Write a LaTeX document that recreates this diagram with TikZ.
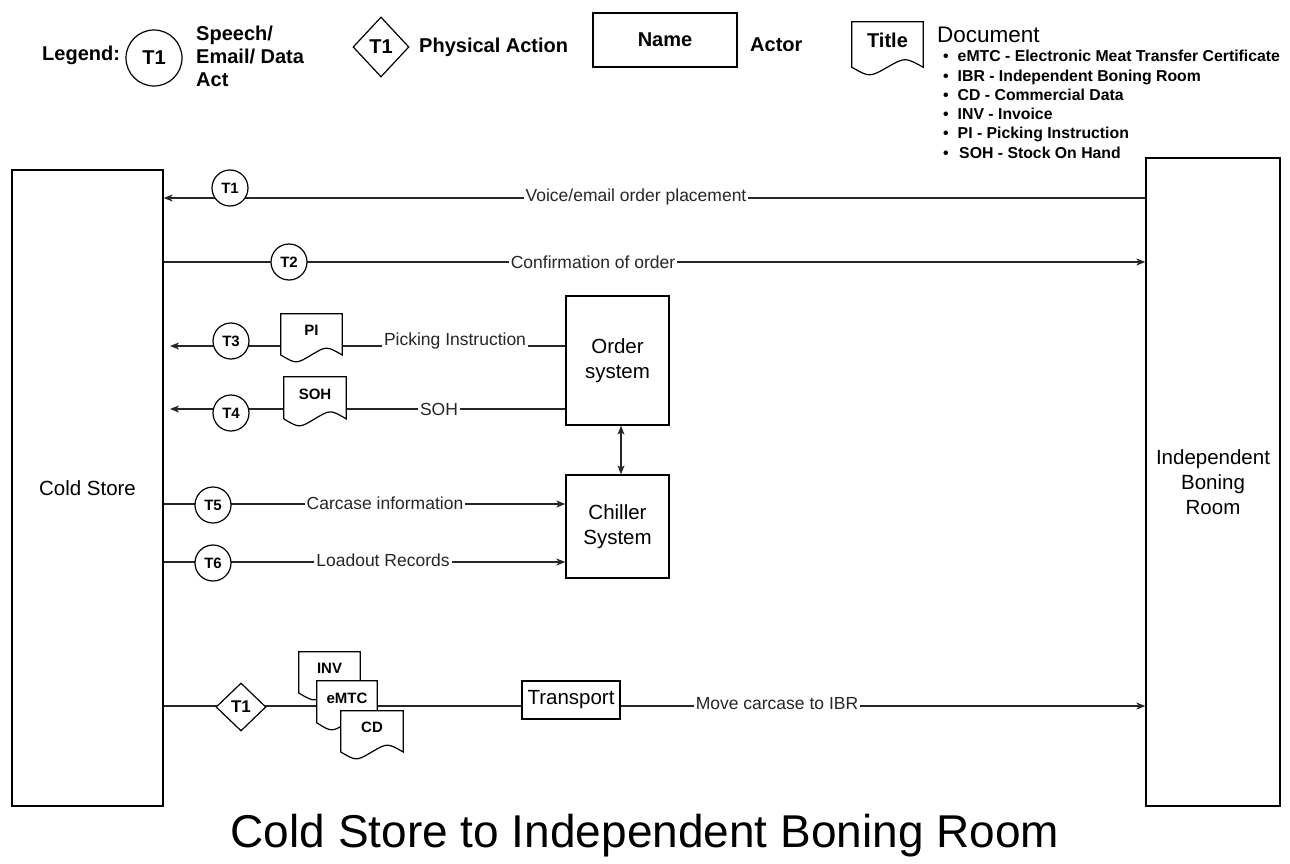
\documentclass[tikz,border=0pt]{standalone}
\usepackage{fontspec}
\setmainfont{Liberation Sans}
\usetikzlibrary{shapes.geometric,calc,arrows.meta}

\tikzset{
  box/.style={draw=black, line width=1.3pt, fill=white, inner sep=0pt, align=center,
    font=\fontsize{20.5}{25}\selectfont},
  tcirc/.style={circle, draw=black, line width=1.2pt, fill=white, minimum size=36pt, inner sep=0pt,
    font=\bfseries\fontsize{15}{18}\selectfont},
  conn/.style={line width=1.1pt, draw=black!85},
  arr/.style={-{Stealth[length=9pt,width=7pt,inset=2.5pt]}},
  dblarr/.style={{Stealth[length=9pt,width=7pt,inset=2.5pt]}-{Stealth[length=9pt,width=7pt,inset=2.5pt]}},
  lbl/.style={fill=white, inner sep=2pt, text=black!85, font=\fontsize{17.5}{21}\selectfont},
  docbox/.style={draw=none, inner sep=0pt},
  docline/.style={draw=black, line width=1.2pt, fill=white},
  doctext/.style={inner sep=0pt, font=\bfseries\fontsize{15}{18}\selectfont},
  legtext/.style={inner sep=0pt, font=\bfseries\fontsize{20}{23}\selectfont},
  itemtext/.style={inner sep=0pt, anchor=base west, font=\bfseries\fontsize{15.8}{19}\selectfont},
  tdiam/.style={diamond, draw=black, line width=1.2pt, fill=white, inner sep=0pt, aspect=1},
}

% name, cx, cy, w, h, text
\newcommand{\docshape}[6]{%
  \node[docbox, minimum width=#4pt, minimum height=#5pt] (#1) at (#2,#3) {};
  \draw[docline] (#1.north west) -- (#1.north east)
    -- ($(#1.south east)+(0,-0.15*#5)$)
    .. controls ($(#1.south west)+(0.75*#4,-0.34*#5)$) .. ($(#1.south west)+(0.5*#4,-0.15*#5)$)
    .. controls ($(#1.south west)+(0.25*#4,0.04*#5)$) .. ($(#1.south west)+(0,-0.15*#5)$)
    -- cycle;
  \node[doctext] (#1-t) at ($(#1.north)+(0,0.35*#5)$) {#6};
}

\begin{document}
\begin{tikzpicture}[x=1pt,y=-1pt]
\useasboundingbox (0,0) rectangle (1290,864);

% ---------- Legend ----------
\node[legtext, anchor=west] (leg) at (42,55) {Legend:};
\node[circle, draw=black, line width=1.2pt, minimum size=56pt, inner sep=0pt,
  font=\bfseries\fontsize{20}{23}\selectfont] (lc) at (154,58) {T1};
\node[legtext, anchor=west, align=left] (lct) at (196,56) {Speech/\\Email/ Data\\Act};
\node[tdiam, minimum width=56pt, minimum height=60pt,
  font=\bfseries\fontsize{20}{23}\selectfont] (ld) at (381,47) {T1};
\node[legtext, anchor=west] (lda) at (419,47) {Physical Action};
\node[draw=black, line width=1.3pt, minimum width=144pt, minimum height=54pt, inner sep=0pt,
  font=\bfseries\fontsize{20}{23}\selectfont] (lname) at (665,40) {Name};
\node[legtext, anchor=west] (lact) at (750,45) {Actor};
\docshape{ltitle}{887.5}{48.5}{71}{53}{\fontsize{20}{23}\selectfont Title}
\node[inner sep=0pt, anchor=base west, font=\fontsize{22.5}{26}\selectfont] (ldoc) at (937,43) {Document};
\node[itemtext] (i1) at (943,62) {\textbullet\hspace{9pt}eMTC - Electronic Meat Transfer Certificate};
\node[itemtext] (i2) at (943,81.2) {\textbullet\hspace{9pt}IBR - Independent Boning Room};
\node[itemtext] (i3) at (943,100.4) {\textbullet\hspace{9pt}CD - Commercial Data};
\node[itemtext] (i4) at (943,119.6) {\textbullet\hspace{9pt}INV - Invoice};
\node[itemtext] (i5) at (943,138.8) {\textbullet\hspace{9pt}PI - Picking Instruction};
\node[itemtext] (i6) at (943,158) {\textbullet\hspace{10.5pt}SOH - Stock On Hand};

% ---------- Actors ----------
\node[box, minimum width=151pt, minimum height=636pt] (cs) at (87.5,488) {Cold Store};
\node[box, minimum width=134pt, minimum height=648pt] (ibr) at (1213,482) {Independent\\Boning\\Room};

% ---------- T1 / T2 ----------
\coordinate (y1) at (0,198);
\draw[conn, arr] (ibr.west |- y1) -- (cs.east |- y1);
\node[tcirc] (t1) at (230,188) {T1};
\node[lbl] (l1) at (636,197) {Voice/email order placement};

\coordinate (y2) at (0,262);
\draw[conn, arr] (cs.east |- y2) -- (ibr.west |- y2);
\node[tcirc] (t2) at (289,262) {T2};
\node[lbl] (l2) at (593,262) {Confirmation of order};

% ---------- Systems ----------
\node[box, minimum width=103pt, minimum height=129pt] (ord) at (617.5,360.5) {Order\\system};
\node[box, minimum width=103pt, minimum height=103pt] (chl) at (617.5,526.5) {Chiller\\System};
\coordinate (dx) at (621,0);
\draw[conn, dblarr] (ord.south -| dx) -- (chl.north -| dx);

% ---------- T3 / T4 ----------
\coordinate (e3) at (170,346);
\draw[conn, arr] (ord.west |- e3) -- (e3);
\node[tcirc] (t3) at (231,341) {T3};
\docshape{pi}{311.5}{338}{61}{48}{PI}
\node[lbl] (l3) at (455,341) {Picking Instruction};

\coordinate (e4) at (170,409);
\draw[conn, arr] (ord.west |- e4) -- (e4);
\node[tcirc] (t4) at (231,413) {T4};
\docshape{soh}{315}{401.5}{62}{49}{SOH}
\node[lbl] (l4) at (439,409) {SOH};

% ---------- T5 / T6 ----------
\coordinate (y5) at (0,504);
\draw[conn, arr] (cs.east |- y5) -- (chl.west |- y5);
\node[tcirc] (t5) at (213,505) {T5};
\node[lbl] (l5) at (385,503) {Carcase information};

\coordinate (y6) at (0,562);
\draw[conn, arr] (cs.east |- y6) -- (chl.west |- y6);
\node[tcirc] (t6) at (213,563) {T6};
\node[lbl] (l6) at (383,560) {Loadout Records};

% ---------- Physical transfer ----------
\coordinate (y7) at (0,706);
\draw[conn, arr] (cs.east |- y7) -- (ibr.west |- y7);
\node[tdiam, minimum width=50pt, minimum height=48pt,
  font=\bfseries\fontsize{17}{20}\selectfont] (d1) at (241,707) {T1};
\docshape{inv}{329.5}{676}{61}{48}{INV}
\docshape{emtc}{347}{705.5}{60}{49}{eMTC}
\docshape{cd}{372}{735}{62}{48}{CD}
\node[box, minimum width=98pt, minimum height=38pt] (trn) at (571,700) {Transport};
\node[lbl] (l7) at (777,704) {Move carcase to IBR};

% ---------- Title ----------
\node[anchor=base, inner sep=0pt, font=\fontsize{46}{50}\selectfont] (title) at (645,847)
  {Cold Store to Independent Boning Room};
\end{tikzpicture}
\end{document}
